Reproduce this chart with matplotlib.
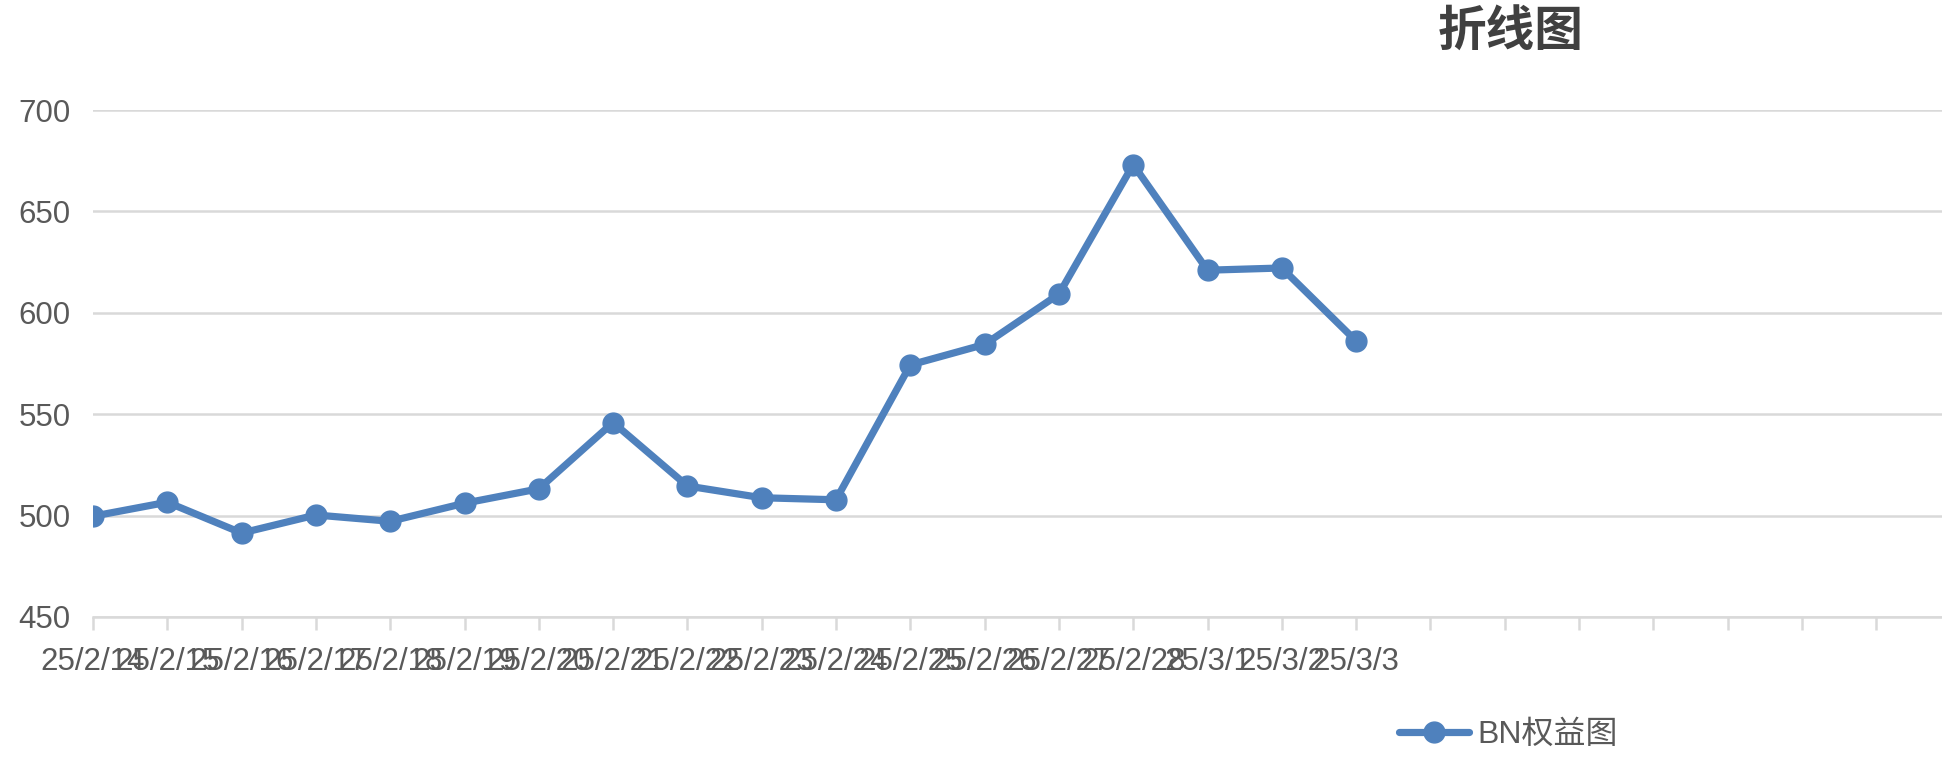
import numpy as np
import matplotlib
matplotlib.use("Agg")
import matplotlib.pyplot as plt

plt.rcParams['font.family'] = ['Liberation Sans', 'Noto Sans CJK SC', 'DejaVu Sans']

dates = ["25/2/14", "25/2/15", "25/2/16", "25/2/17", "25/2/18", "25/2/19",
         "25/2/20", "25/2/21", "25/2/22", "25/2/23", "25/2/24", "25/2/25",
         "25/2/26", "25/2/27", "25/2/28", "25/3/1", "25/3/2", "25/3/3"]
equity = [499.7, 506.6, 491.4, 500.3, 497.2, 506.1, 513.2, 545.9, 514.6,
          508.8, 507.8, 574.3, 584.4, 609.2, 673.1, 621.0, 622.1, 586.1]
n_slots = 25
series_name = "BN权益图"
title = "折线图"

W, H = 1942, 762
fig = plt.figure(figsize=(W / 100, H / 100), dpi=100)
ax = fig.add_axes([93 / W, 1 - 617 / H, 1 - 93 / W, (617 - 110) / H])

x = np.arange(len(equity))
line, = ax.plot(x, equity, color="#4F81BD", lw=5.2, marker="o", ms=15,
                solid_joinstyle="round", solid_capstyle="round", zorder=3,
                label=series_name)

ax.set_xlim(0, (W - 93) / 74.3)
ax.set_ylim(450, 700)
ax.set_yticks([450, 500, 550, 600, 650, 700])
ax.set_xticks(np.arange(n_slots))
ax.set_xticklabels(dates + [""] * (n_slots - len(dates)))

ax.grid(axis="y", color="#d9d9d9", lw=1.8)
ax.set_axisbelow(True)
for s in ["top", "right", "left"]:
    ax.spines[s].set_visible(False)
ax.spines["bottom"].set_color("#d9d9d9")
ax.spines["bottom"].set_linewidth(1.8)

ax.tick_params(axis="y", length=0, pad=16, labelsize=22.5, labelcolor="#595959")
ax.tick_params(axis="x", length=9.4, width=1.8, color="#d9d9d9", pad=12,
               labelsize=22.5, labelcolor="#595959")

fig.text(1511 / W, 1 - 32 / H, title, ha="center", va="center",
         fontsize=35, fontweight="bold", color="#404040",
         family=["Noto Sans CJK SC", "DejaVu Sans"])

leg = fig.legend(handles=[line], loc="center left",
                 bbox_to_anchor=(1399 / W, 1 - 735 / H), frameon=False,
                 borderpad=0, borderaxespad=0, handlelength=2.2,
                 handletextpad=0.25, fontsize=23)
for t in leg.get_texts():
    t.set_color("#595959")

fig.savefig("out.png", dpi=100)
